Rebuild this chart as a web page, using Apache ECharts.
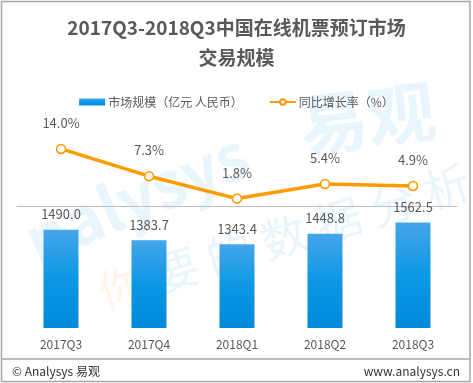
<!DOCTYPE html>
<html><head><meta charset="utf-8">
<script src="https://cdn.jsdelivr.net/npm/echarts@6/dist/echarts.min.js"></script>
<style>html,body{margin:0;padding:0;background:#fff}#c{width:473px;height:383px}</style>
</head><body><div id="c"></div>
<script>
const titleLines = ['2017Q3-2018Q3中国在线机票预订市场', '交易规模'];
const categories = ['2017Q3', '2017Q4', '2018Q1', '2018Q2', '2018Q3'];
const marketSize = [1490.0, 1383.7, 1343.4, 1448.8, 1562.5];
const growthRate = [14.0, 7.3, 1.8, 5.4, 4.9];
const seriesNames = ['市场规模（亿元 人民币）', '同比增长率（%）'];
const footerLeft = '© Analysys 易观';
const footerRight = 'www.analysys.cn';
const watermarkChars = ['你', '要', '的', '数', '据', '分', '析'];

const FONT = '"Noto Sans CJK SC", "Noto Sans", sans-serif';
const WM_BLUE = 'rgba(0,136,217,0.085)';
const WM_ORANGE = 'rgba(255,140,0,0.09)';

const wm = [
  {type: 'text', z: 0, rotation: 0.4, x: 28, y: 243,
    style: {text: 'nalysys', fontSize: 64, fontWeight: 'bold', fill: WM_BLUE, textVerticalAlign: 'middle', fontFamily: FONT}},
  {type: 'text', z: 0, rotation: 0.12, x: 300, y: 126,
    style: {text: '易观', fontSize: 68, fontWeight: 'bold', fill: WM_BLUE, textVerticalAlign: 'middle', fontFamily: FONT}}
];
watermarkChars.forEach((ch, i) => {
  wm.push({type: 'text', z: 0, rotation: 0.3, x: 121 + i * 54.3, y: 287 - i * 16.7,
    style: {text: ch, fontSize: 46, fill: i === 0 ? WM_ORANGE : WM_BLUE, textAlign: 'center', textVerticalAlign: 'middle', fontFamily: FONT}});
});

const chart = echarts.init(document.getElementById('c'), null, {renderer: 'canvas'});
chart.setOption({
  animation: false,
  backgroundColor: '#fff',
  textStyle: {fontFamily: FONT},
  title: {
    text: titleLines.join('\n'),
    left: 'center', top: 8,
    textStyle: {fontSize: 19, fontWeight: 'bold', color: '#595959', lineHeight: 30, fontFamily: FONT}
  },
  legend: {
    top: 91, left: 'center', itemGap: 26, itemWidth: 26, itemHeight: 7,
    textStyle: {fontSize: 12, color: '#595959', fontFamily: FONT, padding: [0, 0, 0, -2]},
    data: [{name: seriesNames[0], icon: 'rect'}, {name: seriesNames[1]}]
  },
  graphic: wm.concat([
    {type: 'rect', z: 100, shape: {x: 1.5, y: 1.5, width: 468.5, height: 380}, style: {fill: 'none', stroke: '#a6a6a6', lineWidth: 1.5}},
    {type: 'line', z: 100, shape: {x1: 1.5, y1: 359, x2: 470, y2: 359}, style: {stroke: '#a6a6a6', lineWidth: 1.5}},
    {type: 'text', z: 100, x: 12, y: 371, style: {text: footerLeft, fontSize: 12, fill: '#333', textVerticalAlign: 'middle', fontFamily: FONT}},
    {type: 'text', z: 100, x: 460, y: 371, style: {text: footerRight, fontSize: 12, fill: '#333', textAlign: 'right', textVerticalAlign: 'middle', fontFamily: FONT}}
  ]),
  grid: {left: 17, right: 16, top: 124.5, bottom: 55},
  xAxis: {
    type: 'category', data: categories,
    axisLine: {lineStyle: {color: '#bfbfbf', width: 1}},
    axisTick: {show: false},
    axisLabel: {color: '#595959', fontSize: 12, margin: 10, fontFamily: FONT}
  },
  yAxis: [
    {type: 'value', min: 500, max: 2550, show: false, splitLine: {show: false}},
    {type: 'value', min: -30, max: 20, show: false, splitLine: {show: false}}
  ],
  series: [
    {
      name: seriesNames[0], type: 'bar', yAxisIndex: 0, barWidth: 35, data: marketSize, z: 3,
      itemStyle: {color: new echarts.graphic.LinearGradient(0, 0, 0, 1, [
        {offset: 0, color: '#45a5ea'}, {offset: 0.5, color: '#0c98e4'}, {offset: 1, color: '#0089da'}])},
      label: {show: true, position: 'top', distance: 9, color: '#595959', fontSize: 13, fontFamily: FONT,
        formatter: p => p.value.toFixed(1)}
    },
    {
      name: seriesNames[1], type: 'line', yAxisIndex: 1, data: growthRate, z: 4,
      symbol: 'circle', symbolSize: 9,
      lineStyle: {color: '#ff9a00', width: 3.5},
      itemStyle: {color: '#fff', borderColor: '#ff9a00', borderWidth: 1.5},
      label: {show: true, position: 'top', distance: 14, color: '#595959', fontSize: 13, fontFamily: FONT,
        formatter: p => p.value.toFixed(1) + '%'}
    }
  ]
});
</script></body></html>
